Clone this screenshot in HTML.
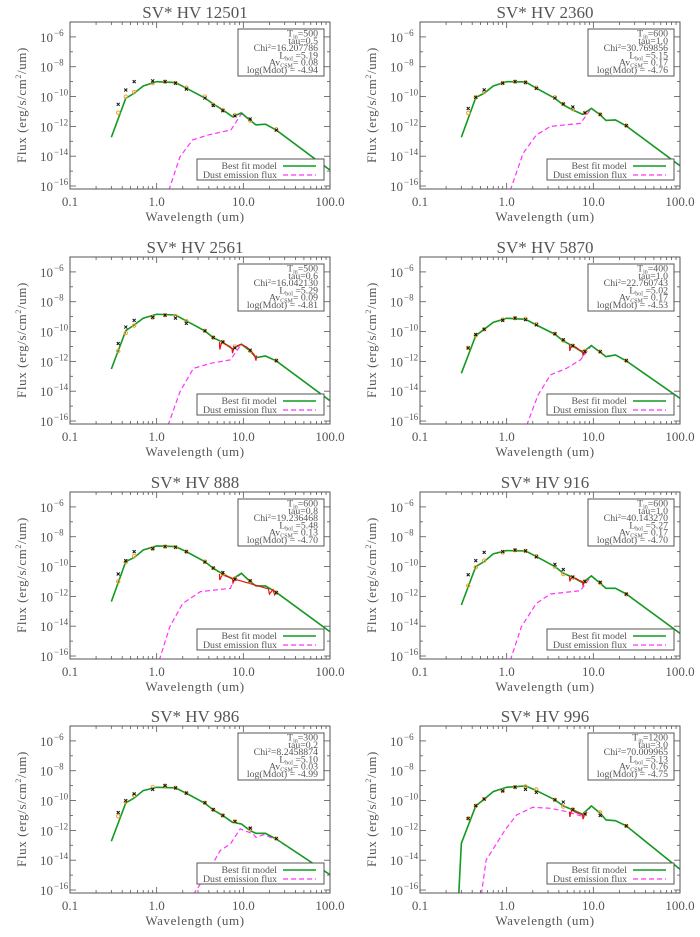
<!DOCTYPE html>
<html><head><meta charset="utf-8">
<style>
html,body{margin:0;padding:0;background:#fff;}
svg{display:block;}
text{font-family:"Liberation Serif",serif;fill:#555;}
</style></head>
<body>
<svg id="fig" width="700" height="937" viewBox="0 0 700 937" xmlns="http://www.w3.org/2000/svg"></svg>
<script>
const TITLES = ["SV* HV 12501","SV* HV 2360","SV* HV 2561","SV* HV 5870","SV* HV 888","SV* HV 916","SV* HV 986","SV* HV 996"];
const TIN = ["500","600","500","400","600","600","300","1200"];
const TAU = ["0.5","1.0","0.6","1.0","0.8","1.0","0.2","3.0"];
const CHI = ["16.207786","30.769856","16.042130","22.760743","19.236468","40.143270","8.2458874","70.009965"];
const LBOL = ["5.19","5.15","5.29","5.02","5.48","5.27","5.10","5.13"];
const AVCSM = ["0.08","0.17","0.09","0.17","0.13","0.17","0.03","0.76"];
const MDOT = ["-4.94","-4.76","-4.81","-4.53","-4.70","-4.70","-4.99","-4.75"];

const X_TICKS = [0.1,1,10,100];
const X_TICK_LABELS = ["0.1","1.0","10.0","100.0"];
const Y_TICKS = [-6,-8,-10,-12,-14,-16];

const MODEL_LAM = [0.3,0.44,0.55,0.7,1.0,1.65,2.2,3.6,4.5,5.8,7.5,9.5,12,14,18,24,100];
const model1 = [-12.73,-10.12,-9.78,-9.29,-9.0,-9.06,-9.44,-10.1,-10.5,-10.9,-11.35,-11.1,-11.6,-11.9,-11.85,-12.25,-14.93];
const model2 = [-12.73,-10.07,-9.78,-9.29,-9.0,-9.02,-9.44,-10.12,-10.56,-10.9,-11.19,-10.79,-11.23,-11.6,-11.57,-11.97,-14.64];
const model3 = [-12.51,-9.94,-9.56,-9.11,-8.84,-8.89,-9.29,-9.96,-10.41,-10.72,-11.17,-10.85,-11.3,-11.75,-11.64,-11.97,-14.64];
const model4 = [-12.8,-10.27,-9.85,-9.38,-9.11,-9.18,-9.56,-10.18,-10.63,-10.97,-11.39,-10.94,-11.39,-11.68,-11.57,-11.97,-14.48];
const model5 = [-12.35,-9.67,-9.4,-8.89,-8.62,-8.66,-9.0,-9.67,-10.12,-10.5,-10.83,-10.45,-11.01,-11.3,-11.3,-11.73,-14.37];
const model6 = [-12.58,-10.0,-9.67,-9.15,-8.93,-8.95,-9.33,-10.0,-10.45,-10.72,-11.08,-10.63,-11.12,-11.46,-11.46,-11.84,-14.48];
const model7 = [-12.73,-10.16,-9.83,-9.33,-9.11,-9.15,-9.51,-10.18,-10.63,-11.01,-11.46,-11.57,-12.02,-12.2,-12.2,-12.58,-14.97];
const MODEL8_LAM = [0.28,0.3,0.44,0.55,0.7,1.0,1.65,2.2,3.6,4.5,5.8,7.5,9.5,12,14,18,24,100];
const model8 = [-16.3,-12.87,-10.36,-9.91,-9.4,-9.11,-9.02,-9.33,-9.95,-10.36,-10.63,-10.92,-10.36,-10.85,-11.3,-11.35,-11.7,-14.61];

const dustLam1 = [1.38,1.86,2.6,3.9,7.2,9.5,12,14,18,24,100];
const dust1 = [-16.3,-14.03,-12.91,-12.58,-12.24,-11.15,-11.6,-11.9,-11.85,-12.25,-14.93];
const dustLam2 = [1.1,1.55,2.2,3.2,7.1,9.5,12,14,18,24,100];
const dust2 = [-16.3,-13.8,-12.58,-12.0,-11.8,-10.79,-11.23,-11.6,-11.57,-11.97,-14.64];
const dustLam3 = [1.35,1.86,2.65,4.2,7.1,9.5,12,14,18,24,100];
const dust3 = [-16.3,-14.03,-12.47,-12.13,-11.9,-10.85,-11.3,-11.75,-11.64,-11.97,-14.64];
const dustLam4 = [1.7,2.3,3.2,4.9,7.1,9.5,12,14,18,24,100];
const dust4 = [-16.3,-14.26,-12.91,-12.47,-11.9,-10.94,-11.39,-11.68,-11.57,-11.97,-14.48];
const dustLam5 = [1.07,1.42,2.0,3.2,7.1,7.6,9.5,12,14,18,24,100];
const dust5 = [-16.3,-14.03,-12.47,-11.68,-11.46,-11.0,-10.45,-11.01,-11.3,-11.3,-11.73,-14.37];
const dustLam6 = [1.1,1.48,2.2,3.2,7.1,9.5,12,14,18,24,100];
const dust6 = [-16.3,-14.03,-12.47,-11.84,-11.62,-10.63,-11.12,-11.46,-11.46,-11.84,-14.48];
const dustLam7 = [2.65,3.8,5.4,7.1,9.2,13,14,17,24,100];
const dust7 = [-16.3,-14.93,-13.36,-12.91,-11.9,-12.24,-12.47,-12.29,-12.6,-14.97];
const dustLam8 = [0.51,0.58,0.96,1.3,2.0,3.2,4.9,7.7,9.5,12,14,18,24,100];
const dust8 = [-16.3,-13.99,-11.97,-10.97,-10.45,-10.52,-10.74,-11.08,-10.36,-10.85,-11.3,-11.35,-11.7,-14.61];

const OBS_LAM = [0.36,0.44,0.55,0.9,1.25,1.65,2.2,3.6,4.5,5.8,8.0,12,24];
const obs1 = [-11.08,-10.0,-9.7,-9.1,-9.0,-9.1,-9.4,-10.0,-10.55,-10.9,-11.25,-11.6,-12.2];
const cross1 = [-10.52,-9.56,-9.0,-8.95,-9.0,-9.1,-9.5,-10.1,-10.6,-10.95,-11.3,-11.5,-12.25];
const obs2 = [-11.1,-10.05,-9.7,-9.1,-9.0,-9.05,-9.4,-10.05,-10.5,-10.85,-11.1,-11.2,-11.95];
const cross2 = [-10.8,-10.05,-9.55,-9.1,-9.0,-9.05,-9.45,-10.1,-10.5,-10.7,-11.1,-11.2,-11.95];
const obs3 = [-11.3,-10.1,-9.6,-9.05,-8.9,-8.95,-9.3,-9.95,-10.4,-10.7,-11.0,-11.3,-11.95];
const cross3 = [-10.8,-9.7,-9.25,-9.05,-8.9,-9.1,-9.45,-9.95,-10.4,-10.7,-11.1,-11.25,-11.95];
const obs4 = [-11.1,-10.25,-9.85,-9.2,-9.1,-9.15,-9.5,-10.15,-10.6,-10.95,-11.3,-11.35,-11.95];
const cross4 = [-11.1,-10.2,-9.85,-9.25,-9.1,-9.2,-9.55,-10.15,-10.55,-10.95,-11.35,-11.35,-11.95];
const obs5 = [-11.0,-9.7,-9.3,-8.8,-8.66,-8.7,-9.0,-9.67,-10.1,-10.5,-10.8,-11.0,-11.75];
const cross5 = [-10.5,-9.6,-9.0,-8.8,-8.66,-8.7,-9.0,-9.7,-10.1,-10.4,-10.85,-10.95,-11.75];
const obs6 = [-11.28,-10.05,-9.6,-9.05,-8.9,-8.95,-9.3,-10.0,-10.5,-10.75,-11.0,-11.1,-11.85];
const cross6 = [-10.55,-9.6,-9.05,-9.0,-8.9,-8.95,-9.35,-9.85,-10.2,-10.7,-11.0,-11.05,-11.85];
const obs7 = [-11.05,-10.1,-9.65,-9.1,-9.0,-9.15,-9.5,-10.15,-10.63,-11.0,-11.4,-11.9,-12.55];
const cross7 = [-10.8,-10.0,-9.55,-9.25,-9.0,-9.15,-9.5,-10.15,-10.6,-11.0,-11.4,-11.85,-12.55];
const obs8 = [-11.2,-10.35,-9.9,-9.35,-9.1,-9.05,-9.25,-9.95,-10.4,-10.6,-10.9,-10.8,-11.7];
const cross8 = [-11.2,-10.35,-9.9,-9.35,-9.1,-9.25,-9.45,-9.95,-10.1,-10.6,-10.9,-11.0,-11.7];

const specLam3 = [5.3,5.35,5.6,6.2,7.0,7.4,7.5,7.8,8.5,9.5,11,12.5,13.5,14,14.2];
const spec3 = [-10.7,-11.2,-10.75,-10.85,-11.0,-11.15,-11.45,-11.1,-10.95,-10.85,-11.05,-11.35,-11.6,-11.95,-11.6];
const specLam4 = [5.3,5.35,5.6,6.3,7.0,7.5,7.6,8.0];
const spec4 = [-10.9,-11.3,-10.9,-11.05,-11.25,-11.3,-11.6,-11.3];
const specLam5 = [5.3,5.35,5.7,6.4,7.2,7.5,7.6,8.0,19.5,20,22,23,24];
const spec5 = [-10.5,-10.9,-10.55,-10.65,-10.75,-10.8,-11.1,-10.85,-11.5,-11.85,-11.55,-11.9,-11.7];
const specLam6 = [5.3,5.35,5.6,6.3,7.0,7.5,7.6,8.0];
const spec6 = [-10.65,-11.0,-10.7,-10.8,-10.95,-11.0,-11.25,-11.0];
const specLam8 = [5.3,5.35,5.6,6.3,7.0,7.5,7.6,8.0];
const spec8 = [-10.75,-11.1,-10.65,-10.8,-10.9,-10.95,-11.25,-10.9];

const MODELS = [model1,model2,model3,model4,model5,model6,model7,model8];
const MODEL_LAMS = [MODEL_LAM,MODEL_LAM,MODEL_LAM,MODEL_LAM,MODEL_LAM,MODEL_LAM,MODEL_LAM,MODEL8_LAM];
const DUSTS = [dust1,dust2,dust3,dust4,dust5,dust6,dust7,dust8];
const DUST_LAMS = [dustLam1,dustLam2,dustLam3,dustLam4,dustLam5,dustLam6,dustLam7,dustLam8];
const OBS = [obs1,obs2,obs3,obs4,obs5,obs6,obs7,obs8];
const CROSSES = [cross1,cross2,cross3,cross4,cross5,cross6,cross7,cross8];
const SPECS = [null,null,spec3,spec4,spec5,spec6,null,spec8];
const SPEC_LAMS = [null,null,specLam3,specLam4,specLam5,specLam6,null,specLam8];

const NS = "http://www.w3.org/2000/svg";
const fig = document.getElementById('fig');
const ROW_OFF = [0,235,470,704];
const PL = 70, PR = 330, PT = 22, PB = 189;
const YTOP = -5.0, YBOT = -16.2;

function mk(tag, attrs, parent){
  const e = document.createElementNS(NS, tag);
  for (const k in attrs) e.setAttribute(k, attrs[k]);
  parent.appendChild(e);
  return e;
}
function xs(l){ return PL + (Math.log10(l) + 1) / 3 * (PR - PL); }
function ys(v){ return PT + (YTOP - v) / (YTOP - YBOT) * (PB - PT); }
function pts(lams, vals){ return lams.map((l,i)=>xs(l).toFixed(2)+','+ys(vals[i]).toFixed(2)).join(' '); }

for (let p = 0; p < 8; p++){
  const col = p % 2, row = Math.floor(p / 2);
  const g = mk('g', {transform:`translate(${col*350},${ROW_OFF[row]})`}, fig);
  
  

  const t = mk('text', {x:195, y:18, 'text-anchor':'middle', 'font-size':'17', fill:'#666'}, g);
  
  
  t.textContent = TITLES[p];

  const clipId = 'clip' + p;
  const cp = mk('clipPath', {id:clipId}, g);
  mk('rect', {x:PL, y:PT, width:PR-PL, height:PB-PT}, cp);

  const ticks = mk('g', {stroke:'#555', 'stroke-width':'0.8'}, g);
  
  
  for (let d = -1; d < 2; d++){
    for (let m = 1; m <= 9; m++){
      const l = m * Math.pow(10, d);
      const x = xs(l);
      const len = m === 1 ? 6 : 3;
      mk('line', {x1:x, y1:PB, x2:x, y2:PB-len}, ticks);
      mk('line', {x1:x, y1:PT, x2:x, y2:PT+len}, ticks);
    }
  }
  for (let v = -5; v >= -16; v--){
    const y = ys(v);
    const len = v % 2 === 0 ? 6 : 3;
    mk('line', {x1:PL, y1:y, x2:PL+len, y2:y}, ticks);
    mk('line', {x1:PR, y1:y, x2:PR-len, y2:y}, ticks);
  }

  X_TICKS.forEach((l,i)=>{
    const tx = mk('text', {x:xs(l), y:206, 'text-anchor':'middle', 'font-size':'13'}, g);
    
    
    tx.textContent = X_TICK_LABELS[i];
  });
  Y_TICKS.forEach(v=>{
    const ty = mk('text', {x:53, y:ys(v)+5, 'text-anchor':'end', 'font-size':'13'}, g);
    
    
    ty.textContent = '10';
    const sup = mk('text', {x:54, y:ys(v)-1, 'text-anchor':'start', 'font-size':'9'}, g);
    
    
    sup.textContent = '\u2212' + (-v);
  });
  const xt = mk('text', {x:195, y:221, 'text-anchor':'middle', 'font-size':'13', 'letter-spacing':'0.6'}, g);
  
  
  xt.textContent = 'Wavelength (um)';
  const yt = mk('text', {x:0, y:0, 'text-anchor':'middle', 'font-size':'13', 'letter-spacing':'0.6', transform:'translate(26,105) rotate(-90)'}, g);
  
  
  yt.appendChild(document.createTextNode('Flux (erg/s/cm'));
  const ys2 = mk('tspan', {'font-size':'8', 'baseline-shift':'5'}, yt); ys2.textContent = '2';
  yt.appendChild(document.createTextNode('/um)'));

  const plot = mk('g', {'clip-path':`url(#${clipId})`}, g);
  const dust = mk('polyline', {points:pts(DUST_LAMS[p], DUSTS[p]), fill:'none', stroke:'#ff33ff', 'stroke-width':'1.2', 'stroke-dasharray':'5,3'}, plot);
  
  
  const model = mk('polyline', {points:pts(MODEL_LAMS[p], MODELS[p]), fill:'none', stroke:'#129a22', 'stroke-width':'1.6'}, plot);
  
  
  if (SPECS[p]){
    const sp = mk('polyline', {points:pts(SPEC_LAMS[p], SPECS[p]), fill:'none', stroke:'#ee1111', 'stroke-width':'1.2'}, plot);
    
    
  }
  OBS_LAM.forEach((l,i)=>{
    const c = mk('circle', {cx:xs(l), cy:ys(OBS[p][i]), r:1.7, fill:'none', stroke:'#f0a030', 'stroke-width':'1'}, plot);
    
    
    const cx = xs(l), cy = ys(CROSSES[p][i]);
    const cr = mk('path', {d:`M${cx-1.5},${cy-1.5}L${cx+1.5},${cy+1.5}M${cx-1.5},${cy+1.5}L${cx+1.5},${cy-1.5}`, stroke:'#111', 'stroke-width':'1'}, plot);
    
    
  });

  const fr = mk('rect', {x:PL, y:PT, width:PR-PL, height:PB-PT, fill:'none', stroke:'#555', 'stroke-width':'1'}, g);
  
  

  const ib = mk('g', {}, g);
  
  
  mk('rect', {x:238, y:29, width:86, height:47, fill:'#fff', stroke:'#555', 'stroke-width':'1'}, ib);
  const lines = [
    [['T',''],['in','sub'],['='+TIN[p],'']],
    [['tau='+TAU[p],'']],
    [['Chi',''],['2','sup'],['='+CHI[p],'']],
    [['L',''],['bol','sub'],[' ='+LBOL[p],'']],
    [['Av',''],['CSM','sub'],['= '+AVCSM[p],'']],
    [['log(Mdot) = '+MDOT[p],'']]
  ];
  lines.forEach((ln,i)=>{
    const tt = mk('text', {x:318, y:36.5+i*7.3, 'text-anchor':'end', 'font-size':'9.8', fill:'#444'}, ib);
    ln.forEach(([s,kind])=>{
      const ts = mk('tspan', {}, tt);
      if (kind==='sub'){ ts.setAttribute('font-size','6'); ts.setAttribute('baseline-shift','-2'); }
      else if (kind==='sup'){ ts.setAttribute('font-size','6'); ts.setAttribute('baseline-shift','3'); }
      ts.textContent = s;
    });
  });

  const lg = mk('g', {}, g);
  
  
  mk('rect', {x:197, y:159, width:127, height:21, fill:'#fff', stroke:'#555', 'stroke-width':'1'}, lg);
  const l1 = mk('text', {x:277, y:169, 'text-anchor':'end', 'font-size':'9.8', fill:'#444'}, lg);
  
  
  l1.textContent = 'Best fit model';
  mk('line', {x1:283, y1:166, x2:316, y2:166, stroke:'#129a22', 'stroke-width':'1.4'}, lg);
  const l2 = mk('text', {x:277, y:178, 'text-anchor':'end', 'font-size':'9.8', fill:'#444'}, lg);
  
  
  l2.textContent = 'Dust emission flux';
  mk('line', {x1:283, y1:175, x2:316, y2:175, stroke:'#ff33ff', 'stroke-width':'1.2', 'stroke-dasharray':'5,3'}, lg);
}
</script>
</body></html>
